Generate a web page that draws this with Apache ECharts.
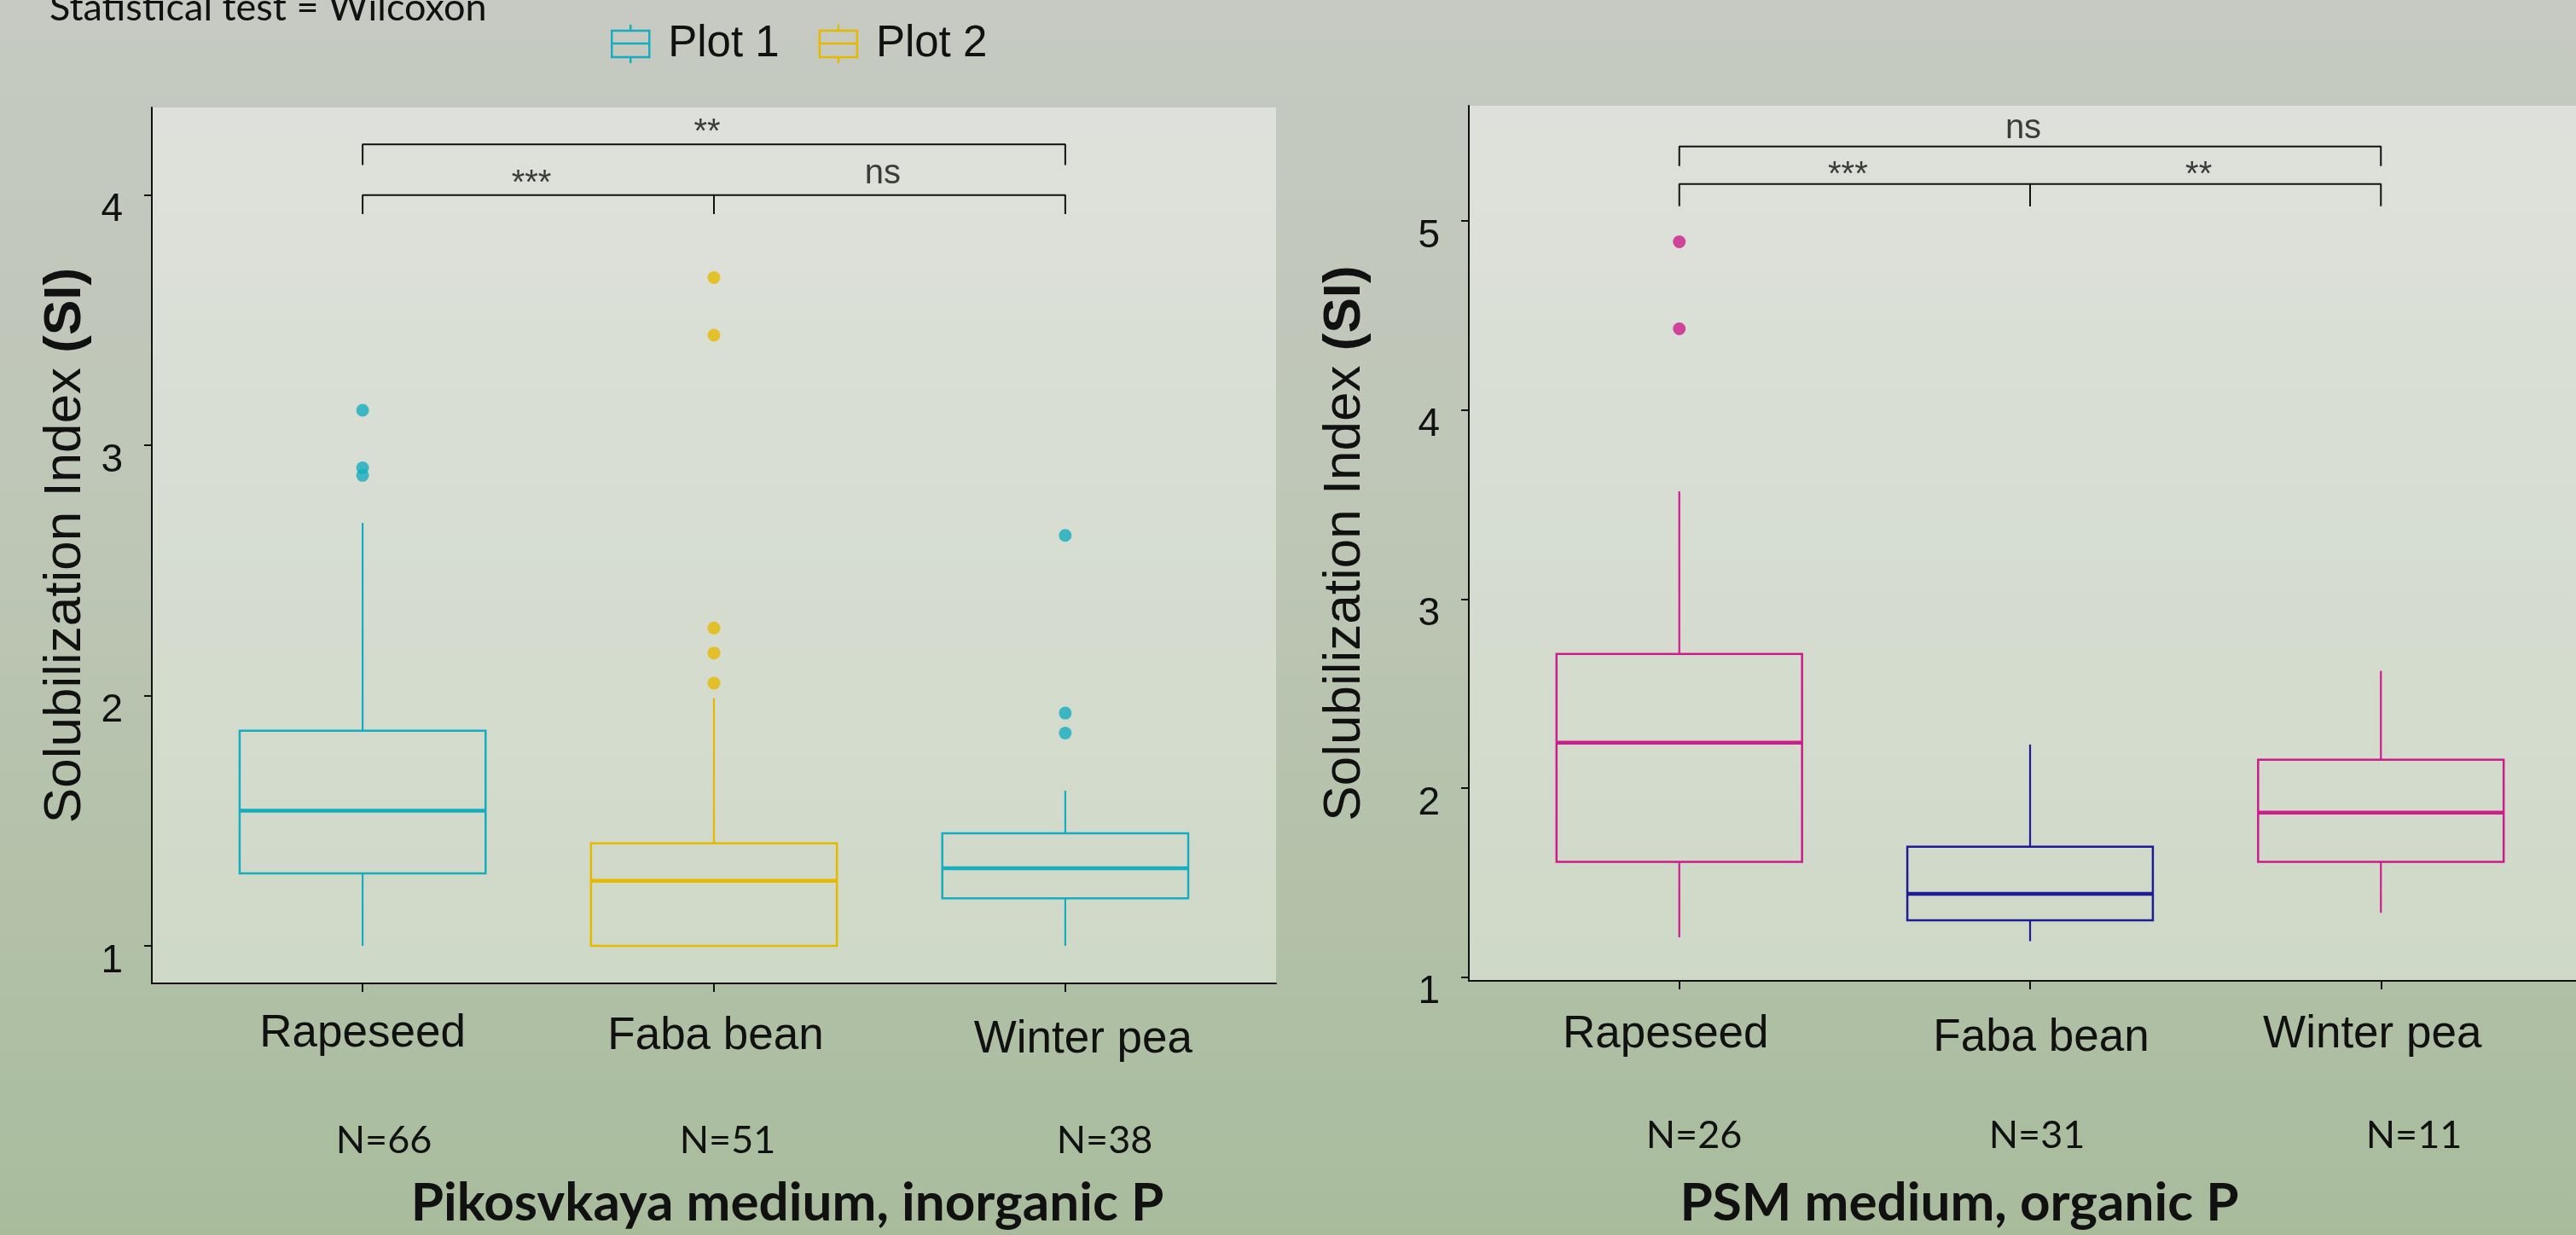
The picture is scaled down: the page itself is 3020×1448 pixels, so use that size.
<!DOCTYPE html>
<html><head><meta charset="utf-8">
<script src="https://cdn.jsdelivr.net/npm/echarts@6/dist/echarts.min.js"></script>
<style>html,body{margin:0;padding:0;background:#c3c8bd}#c{width:3020px;height:1448px}</style>
</head><body><div id="c"></div>
<script>
// ---------------- DATA ----------------
const categories = ['Rapeseed', 'Faba bean', 'Winter pea'];
const yTicksLeft = [1, 2, 3, 4];
const yTicksRight = [1, 2, 3, 4, 5];
// box stats: [min, Q1, median, Q3, max]
const pikoRapeseed = [1.00, 1.29, 1.54, 1.86, 2.69];
const pikoFaba     = [1.00, 1.00, 1.26, 1.41, 1.99];
const pikoWinter   = [1.00, 1.19, 1.31, 1.45, 1.62];
const pikoOutRapeseed = [3.14, 2.91, 2.88];
const pikoOutFaba     = [3.67, 3.44, 2.27, 2.17, 2.05];
const pikoOutWinter   = [2.64, 1.93, 1.85];
const psmRapeseed = [1.21, 1.61, 2.24, 2.71, 3.57];
const psmFaba     = [1.19, 1.30, 1.44, 1.69, 2.23];
const psmWinter   = [1.34, 1.61, 1.87, 2.15, 2.62];
const psmOutRapeseed = [4.89, 4.43];
const pikoN = [66, 51, 38];
const psmN  = [26, 31, 11];
// significance brackets: [fromCat, toCat, lineY, tipY, label]
const pikoBrackets = [[1, 2, 4.0, 3.924, '***'], [2, 3, 4.0, 3.924, 'ns'], [1, 3, 4.203, 4.12, '**']];
const psmBrackets  = [[1, 2, 5.196, 5.079, '***'], [2, 3, 5.196, 5.079, '**'], [1, 3, 5.395, 5.291, 'ns']];
const legendNames = ['Plot 1', 'Plot 2'];
const statText = 'Statistical test = Wilcoxon';
const pikoTitle = 'Pikosvkaya medium, inorganic P';
const psmTitle = 'PSM medium, organic P';

// ---------------- STYLE ----------------
const TEAL = '#17adc0', YEL = '#e6b800', MAG = '#cc1d8c', NAVY = '#1c1c94', INK = '#111111';
const ARIAL = '"Liberation Sans", Arial, sans-serif';
const CAL = 'Lato, "Open Sans", sans-serif';
const BOX_W = 0.7;

const chart = echarts.init(document.getElementById('c'), null, {renderer: 'canvas'});

function box(x, s, color) { return {value: [x].concat(s), itemStyle: {color: color}}; }
function outs(x, arr) { return arr.map(v => [x, v]); }

function renderBox(params, api) {
  const x = api.value(0);
  const top = api.coord([x, api.value(5)]);
  const q3 = api.coord([x, api.value(4)]);
  const med = api.coord([x, api.value(3)]);
  const q1 = api.coord([x, api.value(2)]);
  const bot = api.coord([x, api.value(1)]);
  const w = api.size([BOX_W, 0])[0];
  const cx = med[0], l = cx - w / 2;
  const color = api.visual('color');
  return {type: 'group', children: [
    {type: 'line', shape: {x1: cx, y1: top[1], x2: cx, y2: q3[1]}, style: {stroke: color, lineWidth: 2.2}},
    {type: 'line', shape: {x1: cx, y1: q1[1], x2: cx, y2: bot[1]}, style: {stroke: color, lineWidth: 2.2}},
    {type: 'rect', shape: {x: l, y: q3[1], width: w, height: q1[1] - q3[1]},
      style: {stroke: color, lineWidth: 2.5, fill: 'rgba(0,0,0,0)'}},
    {type: 'line', shape: {x1: l, y1: med[1], x2: l + w, y2: med[1]}, style: {stroke: color, lineWidth: 4.5}}
  ]};
}

const panelBg = {type: 'linear', x: 0, y: 0, x2: 0, y2: 1,
  colorStops: [{offset: 0, color: '#dee1db'}, {offset: 1, color: '#cfd9c7'}]};

function xAxisBase(gridIndex, rich, margin) {
  return {
    type: 'value', gridIndex: gridIndex, min: 0.4, max: 3.6,
    splitLine: {show: false},
    axisLine: {show: true, onZero: false, lineStyle: {color: INK, width: 2}},
    axisTick: {show: true, customValues: [1, 2, 3], length: 10, lineStyle: {color: INK, width: 2}},
    axisLabel: {
      show: true, customValues: [1, 2, 3], margin: margin,
      formatter: v => '{c' + (Math.round(v) - 1) + '|' + categories[Math.round(v) - 1] + '}',
      rich: rich
    }
  };
}
function richSet(pads) {
  const r = {};
  pads.forEach((p, i) => { r['c' + i] = {fontFamily: ARIAL, fontSize: 53, lineHeight: 53, color: INK, padding: p}; });
  return r;
}
function yAxisBase(gridIndex, min, max, ticks, gap) {
  return {
    type: 'value', gridIndex: gridIndex, min: min, max: max,
    splitLine: {show: false},
    axisLine: {show: true, lineStyle: {color: INK, width: 2}},
    axisTick: {show: true, customValues: ticks, length: 9, lineStyle: {color: INK, width: 2}},
    axisLabel: {customValues: ticks, margin: 34, fontFamily: ARIAL, fontSize: 46, color: INK,
      verticalAlign: 'top', lineHeight: 36},
    name: 'Solubilization Index {b|(SI)}', nameLocation: 'middle', nameRotate: 90, nameGap: gap,
    nameTextStyle: {fontFamily: ARIAL, fontSize: 62, color: INK,
      rich: {b: {fontFamily: ARIAL, fontSize: 62, fontWeight: 'bold', color: INK}}}
  };
}

function bracketSeries(brackets, xi, yi, distFn) {
  const res = [];
  brackets.forEach(b => {
    res.push({type: 'line', xAxisIndex: xi, yAxisIndex: yi, silent: true, symbol: 'none',
      lineStyle: {color: INK, width: 2}, data: [[b[0], b[3]], [b[0], b[2]], [b[1], b[2]], [b[1], b[3]]], z: 5});
  });
  res.push({type: 'scatter', xAxisIndex: xi, yAxisIndex: yi, silent: true, symbolSize: 0,
    data: brackets.map(b => ({value: [(b[0] + b[1]) / 2, b[2]], name: b[4],
      label: {distance: distFn(b[4])}})),
    label: {show: true, position: 'top', offset: [-8, 0], formatter: p => p.name,
      fontFamily: ARIAL, fontSize: 40, color: INK}, z: 6});
  return res;
}

const iconPath = 'path://M22 0L22 7M0 7L44 7L44 38L0 38ZM0 22L44 22M22 38L22 45';

function boxSeries(name, xi, yi, color, data) {
  return {name: name, type: 'custom', xAxisIndex: xi, yAxisIndex: yi, silent: true,
    renderItem: renderBox, encode: {x: 0, y: [1, 2, 3, 4, 5]},
    itemStyle: {color: color}, data: data, z: 3};
}

const option = {
  animation: false,
  backgroundColor: {type: 'linear', x: 0, y: 0, x2: 0, y2: 1,
    colorStops: [{offset: 0, color: '#c6cac2'}, {offset: 0.45, color: '#bdc6b5'}, {offset: 1, color: '#a8bc9c'}]},
  legend: {
    left: 711, top: 21, itemWidth: 44, itemHeight: 45, itemGap: 46,
    textStyle: {fontFamily: ARIAL, fontSize: 51, color: INK, padding: [14, 0, 0, 17]},
    data: [
      {name: legendNames[0], icon: iconPath, itemStyle: {color: 'rgba(0,0,0,0)', borderColor: TEAL, borderWidth: 2.5}},
      {name: legendNames[1], icon: iconPath, itemStyle: {color: 'rgba(0,0,0,0)', borderColor: YEL, borderWidth: 2.5}}
    ]
  },
  grid: [
    {left: 178, top: 126, width: 1318, height: 1027, show: true, backgroundColor: panelBg, borderWidth: 0,
      outerBoundsMode: 'none', containLabel: false},
    {left: 1722, top: 124, width: 1316, height: 1026, show: true, backgroundColor: panelBg, borderWidth: 0,
      outerBoundsMode: 'none', containLabel: false}
  ],
  xAxis: [
    xAxisBase(0, richSet([[0, 0, 0, 0], [5, 0, 0, 4], [13, 0, 0, 42]]), 33),
    xAxisBase(1, richSet([[0, 32, 0, 0], [8, 0, 0, 26], [0, 20, 0, 0]]), 37)
  ],
  yAxis: [
    yAxisBase(0, 0.85, 4.35, yTicksLeft, 70),
    yAxisBase(1, 0.98, 5.61, yTicksRight, 114)
  ],
  graphic: [
    {type: 'text', left: 58, top: -13, silent: true,
      style: {text: statText, font: '45px ' + CAL, fill: INK}},
    ...pikoN.map((n, i) => ({type: 'text', x: [450, 853, 1295][i], y: 1337, silent: true,
      style: {text: 'N=' + n, font: '45px ' + CAL, fill: INK, textAlign: 'center', textVerticalAlign: 'middle'}})),
    ...psmN.map((n, i) => ({type: 'text', x: [1986, 2388, 2830][i], y: 1331, silent: true,
      style: {text: 'N=' + n, font: '45px ' + CAL, fill: INK, textAlign: 'center', textVerticalAlign: 'middle'}})),
    {type: 'text', x: 923, y: 1411, silent: true,
      style: {text: pikoTitle, font: 'bold 62px ' + CAL, fill: INK, textAlign: 'center', textVerticalAlign: 'middle'}},
    {type: 'text', x: 2297, y: 1411, silent: true,
      style: {text: psmTitle, font: 'bold 62px ' + CAL, fill: INK, textAlign: 'center', textVerticalAlign: 'middle'}}
  ],
  series: [
    boxSeries(legendNames[0], 0, 0, TEAL, [box(1, pikoRapeseed, TEAL), box(3, pikoWinter, TEAL)]),
    boxSeries(legendNames[1], 0, 0, YEL, [box(2, pikoFaba, YEL)]),
    {name: legendNames[0], type: 'scatter', xAxisIndex: 0, yAxisIndex: 0, symbolSize: 15, silent: true,
      itemStyle: {color: TEAL}, data: outs(1, pikoOutRapeseed).concat(outs(3, pikoOutWinter)), z: 4},
    {name: legendNames[1], type: 'scatter', xAxisIndex: 0, yAxisIndex: 0, symbolSize: 15, silent: true,
      itemStyle: {color: YEL}, data: outs(2, pikoOutFaba), z: 4},
    boxSeries('PSM', 1, 1, MAG, [box(1, psmRapeseed, MAG), box(2, psmFaba, NAVY), box(3, psmWinter, MAG)]),
    {name: 'PSM outliers', type: 'scatter', xAxisIndex: 1, yAxisIndex: 1, symbolSize: 15, silent: true,
      itemStyle: {color: MAG}, data: outs(1, psmOutRapeseed), z: 4},
    ...bracketSeries(pikoBrackets, 0, 0, t => t === 'ns' ? 5 : -7),
    ...bracketSeries(psmBrackets, 1, 1, t => t === 'ns' ? 1 : -10)
  ]
};
chart.setOption(option);
</script></body></html>
